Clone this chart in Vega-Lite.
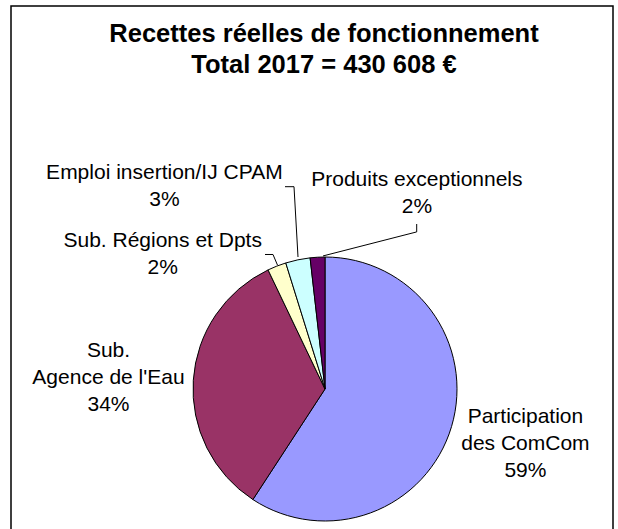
{
  "$schema": "https://vega.github.io/schema/vega-lite/v6.json",
  "width": 602,
  "height": 526,
  "autosize": {"type": "none"},
  "padding": {"left": 11, "top": 6, "right": 5, "bottom": 0},
  "background": "white",
  "config": {
    "view": {"stroke": "black", "strokeWidth": 1.5},
    "text": {"font": "Liberation Sans"}
  },
  "title": {
    "text": ["Recettes réelles de fonctionnement", "Total 2017 = 430 608 €"],
    "font": "Liberation Sans",
    "fontSize": 25.5,
    "fontWeight": "bold",
    "color": "black",
    "anchor": "middle",
    "frame": "group",
    "baseline": "top",
    "lineHeight": 31,
    "offset": -72,
    "dx": 12
  },
  "data": {
    "values": [
      {"poste": "Participation des ComCom", "ord": 1, "montant": 254920, "label": "Participation|des ComCom|59%"},
      {"poste": "Sub. Agence de l'Eau", "ord": 2, "montant": 145115, "label": "Sub.|Agence de l'Eau|34%"},
      {"poste": "Sub. Régions et Dpts", "ord": 3, "montant": 9904, "label": "Sub. Régions et Dpts|2%"},
      {"poste": "Emploi insertion/IJ CPAM", "ord": 4, "montant": 12918, "label": "Emploi insertion/IJ CPAM|3%"},
      {"poste": "Produits exceptionnels", "ord": 5, "montant": 7751, "label": "Produits exceptionnels|2%"}
    ]
  },
  "layer": [
    {
      "mark": {"type": "arc", "radius": 132, "stroke": "black", "strokeWidth": 1},
      "encoding": {
        "x": {"datum": 0, "type": "quantitative", "scale": {"domain": [-2.3788, 2.1818], "nice": false, "zero": false}, "axis": null},
        "y": {"datum": 0, "type": "quantitative", "scale": {"domain": [-1.0833, 2.9015], "nice": false, "zero": false}, "axis": null},
        "theta": {"field": "montant", "type": "quantitative", "stack": true},
        "order": {"field": "ord", "type": "quantitative"},
        "color": {
          "field": "poste", "type": "nominal",
          "scale": {
            "domain": ["Participation des ComCom", "Sub. Agence de l'Eau", "Sub. Régions et Dpts", "Emploi insertion/IJ CPAM", "Produits exceptionnels"],
            "range": ["#9999FF", "#993366", "#FFFFCC", "#CCFFFF", "#660066"]
          },
          "legend": null
        }
      }
    },
    {
      "mark": {"type": "text", "radius": 207, "dx": 2, "dy": -31, "fontSize": 21, "lineHeight": 27, "lineBreak": "|", "align": "center", "baseline": "middle", "color": "black"},
      "encoding": {
        "x": {"datum": 0, "type": "quantitative", "scale": {"domain": [-2.3788, 2.1818], "nice": false, "zero": false}, "axis": null},
        "y": {"datum": 0, "type": "quantitative", "scale": {"domain": [-1.0833, 2.9015], "nice": false, "zero": false}, "axis": null},
        "theta": {"field": "montant", "type": "quantitative", "stack": true},
        "order": {"field": "ord", "type": "quantitative"},
        "detail": {"field": "poste", "type": "nominal"},
        "text": {"condition": {"test": "datum.ord === 1", "field": "label"}, "value": ""}
      }
    },
    {
      "mark": {"type": "text", "radius": 217, "dx": 0, "dy": -24, "fontSize": 21, "lineHeight": 27, "lineBreak": "|", "align": "center", "baseline": "middle", "color": "black"},
      "encoding": {
        "x": {"datum": 0, "type": "quantitative", "scale": {"domain": [-2.3788, 2.1818], "nice": false, "zero": false}, "axis": null},
        "y": {"datum": 0, "type": "quantitative", "scale": {"domain": [-1.0833, 2.9015], "nice": false, "zero": false}, "axis": null},
        "theta": {"field": "montant", "type": "quantitative", "stack": true},
        "order": {"field": "ord", "type": "quantitative"},
        "detail": {"field": "poste", "type": "nominal"},
        "text": {"condition": {"test": "datum.ord === 2", "field": "label"}, "value": ""}
      }
    },
    {
      "mark": {"type": "text", "radius": 146, "dx": -109, "dy": -12, "fontSize": 21, "lineHeight": 27, "lineBreak": "|", "align": "center", "baseline": "middle", "color": "black"},
      "encoding": {
        "x": {"datum": 0, "type": "quantitative", "scale": {"domain": [-2.3788, 2.1818], "nice": false, "zero": false}, "axis": null},
        "y": {"datum": 0, "type": "quantitative", "scale": {"domain": [-1.0833, 2.9015], "nice": false, "zero": false}, "axis": null},
        "theta": {"field": "montant", "type": "quantitative", "stack": true},
        "order": {"field": "ord", "type": "quantitative"},
        "detail": {"field": "poste", "type": "nominal"},
        "text": {"condition": {"test": "datum.ord === 3", "field": "label"}, "value": ""}
      }
    },
    {
      "mark": {"type": "text", "radius": 207, "dx": -118, "dy": -13, "fontSize": 21, "lineHeight": 27, "lineBreak": "|", "align": "center", "baseline": "middle", "color": "black"},
      "encoding": {
        "x": {"datum": 0, "type": "quantitative", "scale": {"domain": [-2.3788, 2.1818], "nice": false, "zero": false}, "axis": null},
        "y": {"datum": 0, "type": "quantitative", "scale": {"domain": [-1.0833, 2.9015], "nice": false, "zero": false}, "axis": null},
        "theta": {"field": "montant", "type": "quantitative", "stack": true},
        "order": {"field": "ord", "type": "quantitative"},
        "detail": {"field": "poste", "type": "nominal"},
        "text": {"condition": {"test": "datum.ord === 4", "field": "label"}, "value": ""}
      }
    },
    {
      "mark": {"type": "text", "radius": 197, "dx": 103, "dy": -12, "fontSize": 21, "lineHeight": 27, "lineBreak": "|", "align": "center", "baseline": "middle", "color": "black"},
      "encoding": {
        "x": {"datum": 0, "type": "quantitative", "scale": {"domain": [-2.3788, 2.1818], "nice": false, "zero": false}, "axis": null},
        "y": {"datum": 0, "type": "quantitative", "scale": {"domain": [-1.0833, 2.9015], "nice": false, "zero": false}, "axis": null},
        "theta": {"field": "montant", "type": "quantitative", "stack": true},
        "order": {"field": "ord", "type": "quantitative"},
        "detail": {"field": "poste", "type": "nominal"},
        "text": {"condition": {"test": "datum.ord === 5", "field": "label"}, "value": ""}
      }
    },
    {
      "data": {"values": [
        {"segment": "Régions tick", "x": -0.4545, "y": 1.019, "x2": -0.394, "y2": 1.019},
        {"segment": "Régions line", "x": -0.394, "y": 1.019, "x2": -0.36, "y2": 0.939},
        {"segment": "Emploi tick", "x": -0.303, "y": 1.5326, "x2": -0.2348, "y2": 1.5326},
        {"segment": "Emploi line", "x": -0.2348, "y": 1.5326, "x2": -0.2045, "y2": 1.0},
        {"segment": "Produits tick", "x": 0.6947, "y": 1.25, "x2": 0.6947, "y2": 1.19},
        {"segment": "Produits line", "x": 0.6947, "y": 1.19, "x2": -0.015, "y2": 1.008}
      ]},
      "mark": {"type": "rule", "color": "black", "strokeWidth": 1},
      "encoding": {
        "x": {"field": "x", "type": "quantitative", "scale": {"domain": [-2.3788, 2.1818], "nice": false, "zero": false}, "axis": null},
        "y": {"field": "y", "type": "quantitative", "scale": {"domain": [-1.0833, 2.9015], "nice": false, "zero": false}, "axis": null},
        "x2": {"field": "x2"},
        "y2": {"field": "y2"}
      }
    }
  ]
}
